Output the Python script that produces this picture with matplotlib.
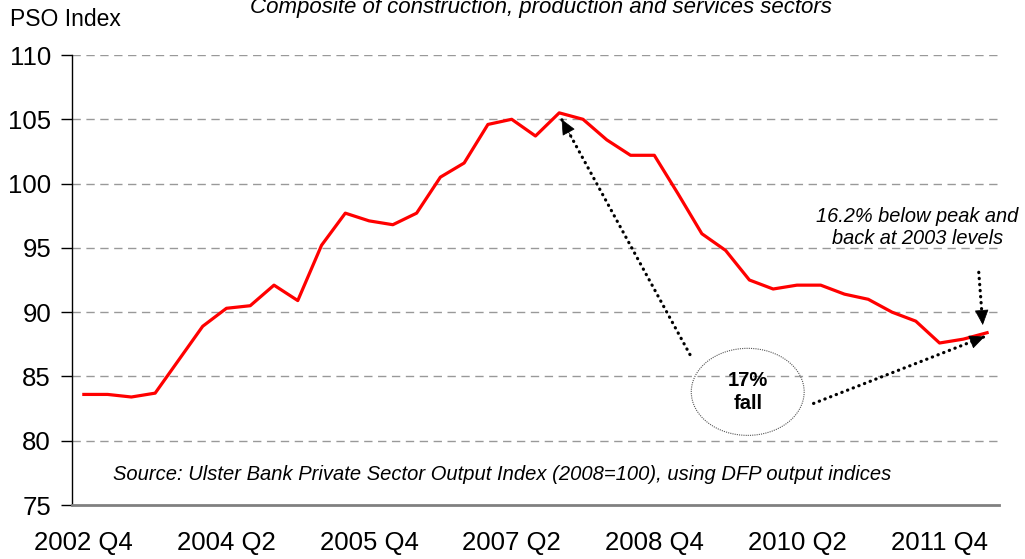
import numpy as np
import matplotlib.pyplot as plt
from matplotlib.patches import Ellipse

plt.rcParams['font.family'] = ['Liberation Sans', 'DejaVu Sans']

# quarters 2002 Q4 .. 2012 Q2
quarters = []
for y in range(2002, 2013):
    for q in range(1, 5):
        if (y, q) >= (2002, 4) and (y, q) <= (2012, 2):
            quarters.append(f"{y} Q{q}")

pso = [83.6, 83.6, 83.4, 83.7, 86.3, 88.9, 90.3, 90.5, 92.1, 90.9,
       95.2, 97.7, 97.1, 96.8, 97.7, 100.5, 101.6, 104.6, 105.0, 103.7,
       105.5, 105.0, 103.4, 102.2, 102.2, 99.2, 96.1, 94.8, 92.5, 91.8,
       92.1, 92.1, 91.4, 91.0, 90.0, 89.3, 87.6, 87.9, 88.4]

yticks = [75, 80, 85, 90, 95, 100, 105, 110]
xtick_idx = [0, 6, 12, 18, 24, 30, 36]

fig = plt.figure(figsize=(10.25, 5.59), dpi=100)
ax = fig.add_axes([0.0702, 0.0966, 0.9044, 0.805])

x = np.arange(len(pso))
ax.plot(x, pso, color='#ff0000', lw=2.3, zorder=3)

ax.set_xlim(-0.5, len(pso) - 0.5)
ax.set_ylim(75, 110)
ax.set_yticks(yticks)
ax.set_xticks(xtick_idx)
ax.set_xticklabels([quarters[i] for i in xtick_idx])
ax.tick_params(axis='y', labelsize=18.5, length=8, width=1, pad=7)
ax.tick_params(axis='x', labelsize=18.5, length=0, pad=19)

for v in yticks[1:]:
    ax.axhline(v, color='#999999', lw=1, ls=(0, (6, 4)), zorder=1)

for s in ['top', 'right']:
    ax.spines[s].set_visible(False)
ax.spines['left'].set_color('black')
ax.spines['left'].set_linewidth(1)
ax.spines['bottom'].set_color('#808080')
ax.spines['bottom'].set_linewidth(2)


def dotted_arrow(head, tail):
    # dotted shaft
    ax.annotate('', xy=head, xytext=tail,
                arrowprops=dict(arrowstyle='-', ls=(0, (0.1, 1.8)), lw=2.3,
                                color='black', capstyle='round',
                                shrinkA=0, shrinkB=0), zorder=4)
    # solid head
    near = (head[0] + 0.08 * (tail[0] - head[0]),
            head[1] + 0.08 * (tail[1] - head[1]))
    ax.annotate('', xy=head, xytext=near,
                arrowprops=dict(arrowstyle='-|>,head_length=0.55,head_width=0.25',
                                lw=0.5, color='black', shrinkA=0, shrinkB=0,
                                mutation_scale=18), zorder=4)


dotted_arrow((20.1, 105.0), (25.5, 86.7))
dotted_arrow((37.9, 88.1), (30.7, 82.9))
dotted_arrow((37.82, 89.0), (37.65, 93.1))

ax.add_patch(Ellipse((27.93, 83.8), 4.75, 6.77, fill=False,
                     ls=(0, (1, 1)), lw=0.8, edgecolor='#555555'))
ax.text(27.93, 83.8, '17%\nfall', ha='center', va='center',
        fontsize=14.5, fontweight='bold', linespacing=1.3)

ax.text(35.07, 96.6, '16.2% below peak and\nback at 2003 levels',
        ha='center', va='center', fontsize=14.4, style='italic',
        linespacing=1.2)

ax.text(1.23, 77.35, 'Source: Ulster Bank Private Sector Output Index (2008=100), '
        'using DFP output indices', ha='left', va='center',
        fontsize=14.5, style='italic')

fig.text(10 / 1025, 1 - 19 / 559, 'PSO Index', ha='left', va='center',
         fontsize=16.5)
fig.text(541 / 1025, 1 - 7 / 559,
         'Composite of construction, production and services sectors',
         ha='center', va='center', fontsize=16, style='italic')

fig.savefig('out.png', dpi=100)
